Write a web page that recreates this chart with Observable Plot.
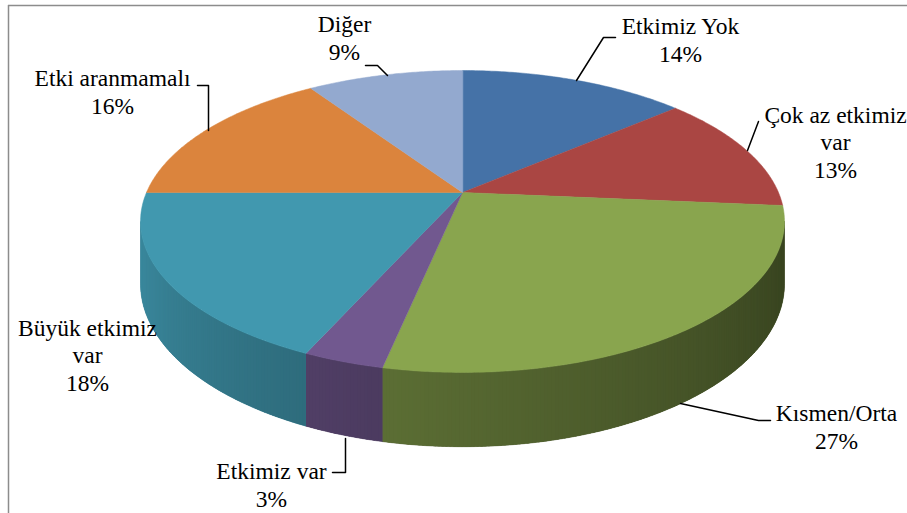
<!DOCTYPE html>
<html><head><meta charset="utf-8">
<script src="https://cdn.jsdelivr.net/npm/d3@7"></script>
<script src="https://cdn.jsdelivr.net/npm/@observablehq/plot@0.6"></script>
<style>html,body{margin:0;padding:0;background:#fff;overflow:hidden;font-family:"Liberation Serif",serif}</style>
</head><body><div id="chart"></div>
<script>
// ---- data ----
const categories = ["Etkimiz Yok", "Çok az etkimiz\nvar", "Kısmen/Orta", "Etkimiz var", "Büyük etkimiz\nvar", "Etki aranmamalı", "Diğer"];
const values = [13.7, 12.7, 26.9, 3.4, 18.3, 15.6, 9.4];
const percentLabels = ["14%", "13%", "27%", "3%", "18%", "16%", "9%"];

// ---- style / layout ----
const colors = ["#4572a7", "#aa4643", "#89a54e", "#71588f", "#4198af", "#db843d", "#93a9cf"];
const W = 907, H = 513;
const CX = 462, CY = 192, A = 316, B = 145.4, K = 0.192, T = 60;
const FONT = 23.5, LINE = 27.5;
const labelPos = [[680, 40], [835, 142], [836, 427], [271, 485], [87, 355], [112, 92], [344, 38]];
const leaders = [
  [[615, 37], [603, 37], [576, 80]],
  [[758, 121], [747, 150]],
  [[770, 420], [758, 420], [680, 403]],
  [[332, 472], [345, 472], [345, 438]],
  null,
  [[197, 85], [208, 85], [208, 130]],
  [[365, 65], [377, 65], [387, 75]]
];

function proj(theta, bottom) {
  const u = Math.sin(theta), w = Math.cos(theta), d = 1 + K * w;
  return [CX + A * u / d, CY - B * w / d + (bottom ? T / d : 0)];
}

const total = d3.sum(values);
const slices = [];
let acc = 0;
values.forEach((v, i) => {
  const a0 = acc / total * 2 * Math.PI; acc += v;
  const a1 = acc / total * 2 * Math.PI;
  slices.push({i, a0, a1});
});

// top faces
const topPts = [];
slices.forEach(s => {
  topPts.push({id: s.i, x: CX, y: CY, c: colors[s.i]});
  const n = Math.max(2, Math.ceil((s.a1 - s.a0) / 0.01));
  for (let j = 0; j <= n; j++) {
    const t = s.a0 + (s.a1 - s.a0) * j / n;
    const [x, y] = proj(t, false);
    topPts.push({id: s.i, x, y, c: colors[s.i]});
  }
});

// side walls (visible front part)
const lo = Math.acos(-K), hi = 2 * Math.PI - lo;
const wallBase = [], wallPts = [];
let qid = 0;
function shade(col, theta) {
  const t = (theta - lo) / (hi - lo);
  const f = 0.4 + 0.52 * Math.pow(Math.max(0, Math.min(1, t)), 1.2);
  const c = d3.rgb(col);
  return d3.rgb(c.r * f, c.g * f, c.b * f).formatHex();
}
slices.forEach(s => {
  const b0 = Math.max(s.a0, lo), b1 = Math.min(s.a1, hi);
  if (b1 <= b0) return;
  const n = Math.max(1, Math.ceil((b1 - b0) / 0.01));
  const mid = shade(colors[s.i], (b0 + b1) / 2);
  for (let j = 0; j <= n; j++) { const p = proj(b0 + (b1 - b0) * j / n, false); wallBase.push({id: s.i, x: p[0], y: p[1], c: mid}); }
  for (let j = n; j >= 0; j--) { const p = proj(b0 + (b1 - b0) * j / n, true); wallBase.push({id: s.i, x: p[0], y: p[1], c: mid}); }
  const step = (b1 - b0) / n;
  for (let j = 0; j < n; j++) {
    const t0 = b0 + step * j, t1 = Math.min(b1, t0 + step * 1.6);
    const c = shade(colors[s.i], t0 + step / 2);
    const p1 = proj(t0, false), p2 = proj(t1, false), p3 = proj(t1, true), p4 = proj(t0, true);
    [p1, p2, p3, p4].forEach(p => wallPts.push({id: qid, x: p[0], y: p[1], c}));
    qid++;
  }
});

const leaderPts = [];
leaders.forEach((l, i) => { if (l) l.forEach(p => leaderPts.push({id: i, x: p[0], y: p[1]})); });

// one row per text line
const labelRows = [];
categories.forEach((c, i) => {
  const lines = (c + "\n" + percentLabels[i]).split("\n");
  lines.forEach((ln, j) => labelRows.push({x: labelPos[i][0], y: labelPos[i][1] + (j - (lines.length - 1) / 2) * LINE, text: ln}));
});

const plot = Plot.plot({
  width: W, height: H, margin: 0,
  x: {domain: [0, W], range: [0, W], axis: null},
  y: {domain: [0, H], range: [0, H], axis: null},
  color: {type: "identity"},
  marks: [
    Plot.ruleX([8], {y1: 5, y2: H, stroke: "#8c8c8c", strokeWidth: 1.5}),
    Plot.ruleY([5], {x1: 8, x2: W, stroke: "#8c8c8c", strokeWidth: 1.5}),
    Plot.line(wallBase, {x: "x", y: "y", z: "id", fill: "c", stroke: "c", strokeWidth: 0.5, curve: "linear-closed"}),
    Plot.line(wallPts, {x: "x", y: "y", z: "id", fill: "c", curve: "linear-closed"}),
    Plot.line(topPts, {x: "x", y: "y", z: "id", fill: "c", stroke: "c", strokeWidth: 0.5, curve: "linear-closed"}),
    Plot.line(leaderPts, {x: "x", y: "y", z: "id", stroke: "black", strokeWidth: 1.5}),
    Plot.text(labelRows, {x: "x", y: "y", text: "text", fontSize: FONT, fontFamily: "Liberation Serif", textAnchor: "middle"})
  ]
});
plot.querySelectorAll("text").forEach(t => t.style.fontFamily = "'Liberation Serif', serif");
document.getElementById("chart").appendChild(plot);
</script>
</body></html>
